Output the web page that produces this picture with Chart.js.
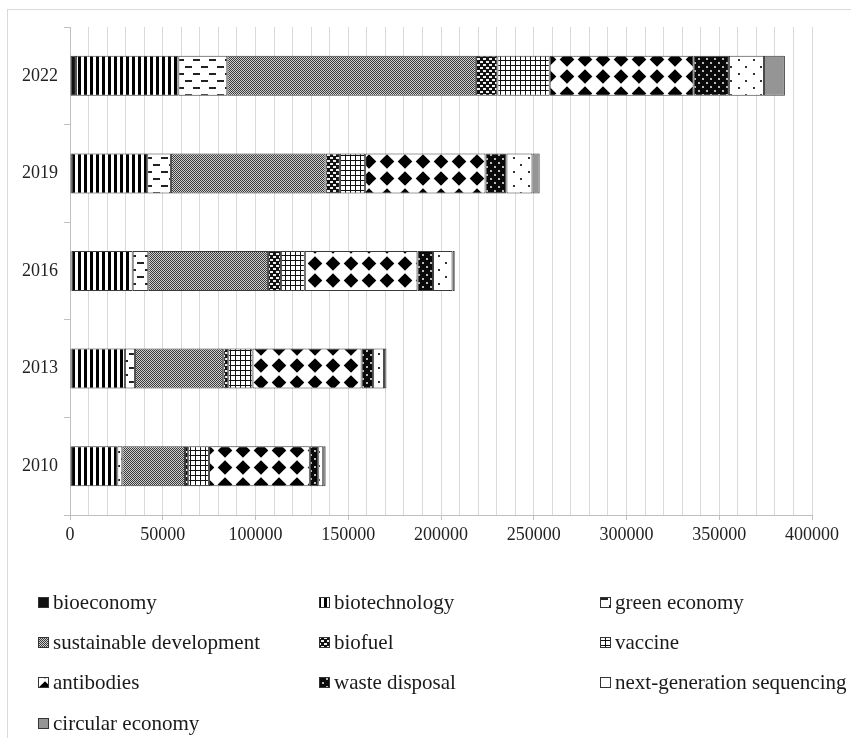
<!DOCTYPE html>
<html>
<head>
<meta charset="utf-8">
<script src="https://cdn.jsdelivr.net/npm/chart.js@4"></script>
<style>
  body { margin: 0; overflow: hidden; background: #fff; }
  #frame { position: absolute; left: 7px; top: 9px; width: 900px; height: 800px; border: 1px solid #d9d9d9; }
  #wrap { position: absolute; left: 0; top: 0; width: 851px; height: 738px; }
</style>
</head>
<body>
<div id="frame"></div>
<div id="wrap"><canvas id="myChart"></canvas></div>
<script>
// categories, top to bottom
const years = ['2022', '2019', '2016', '2013', '2010'];

// series values
const bioeconomy = [3200, 1000, 800, 700, 600];
const biotechnology = [55200, 40600, 33000, 28900, 24900];
const greenEconomy = [26400, 12800, 8400, 5400, 2700];
const sustainableDevelopment = [134000, 83400, 64600, 47600, 33800];
const biofuel = [11600, 7700, 6900, 2700, 1700];
const vaccine = [28200, 13600, 12900, 13100, 11200];
const antibodies = [77600, 64900, 60700, 58800, 54400];
const wasteDisposal = [19000, 11300, 8400, 6200, 4500];
const ngs = [18900, 14000, 10500, 5900, 2700];
const circularEconomy = [11300, 3900, 1200, 1300, 1300];

const seriesNames = ['bioeconomy', 'biotechnology', 'green economy', 'sustainable development', 'biofuel',
    'vaccine', 'antibodies', 'waste disposal', 'next-generation sequencing', 'circular economy'];
const seriesValues = [bioeconomy, biotechnology, greenEconomy, sustainableDevelopment, biofuel,
    vaccine, antibodies, wasteDisposal, ngs, circularEconomy];

// x axis ticks
const xMax = 400000;
const labelStep = 50000;
const gridStep = 10000;

const serif = "'Liberation Serif', 'Times New Roman', serif";

function tile(w, h, draw) {
    const c = document.createElement('canvas');
    c.width = w;
    c.height = h;
    const g = c.getContext('2d');
    draw(g, w, h);
    return c;
}

function diamond(g, cx, cy, r) {
    g.beginPath();
    g.moveTo(cx, cy - r);
    g.lineTo(cx + r, cy);
    g.lineTo(cx, cy + r);
    g.lineTo(cx - r, cy);
    g.closePath();
    g.fill();
}

// hatch tiles for each series
const tiles = [
    tile(4, 4, (g) => { g.fillStyle = '#111'; g.fillRect(0, 0, 4, 4); }),
    tile(6, 6, (g) => { g.fillStyle = '#fff'; g.fillRect(0, 0, 6, 6); g.fillStyle = '#000'; g.fillRect(0, 0, 3, 6); }),
    tile(16, 14, (g) => {
        g.fillStyle = '#fff'; g.fillRect(0, 0, 16, 14);
        g.fillStyle = '#222'; g.fillRect(1, 3, 7, 2); g.fillRect(9, 10, 7, 2);
    }),
    tile(2, 2, (g) => {
        g.fillStyle = '#cfcfcf'; g.fillRect(0, 0, 2, 2);
        g.fillStyle = '#3a3a3a'; g.fillRect(0, 0, 1, 1); g.fillRect(1, 1, 1, 1);
    }),
    tile(6, 6, (g) => {
        g.fillStyle = '#111'; g.fillRect(0, 0, 6, 6);
        g.fillStyle = '#eee'; g.fillRect(0, 1, 3, 2); g.fillRect(3, 4, 3, 2);
    }),
    tile(5, 5, (g) => {
        g.fillStyle = '#fff'; g.fillRect(0, 0, 5, 5);
        g.fillStyle = '#111'; g.fillRect(0, 0, 5, 1); g.fillRect(0, 0, 1, 5);
    }),
    tile(18, 17, (g) => {
        g.fillStyle = '#fff'; g.fillRect(0, 0, 18, 17);
        g.fillStyle = '#000';
        diamond(g, 9, 8.5, 7.3);
    }),
    tile(8, 8, (g) => {
        g.fillStyle = '#0a0a0a'; g.fillRect(0, 0, 8, 8);
        g.fillStyle = '#bbb'; g.fillRect(2, 2, 2, 2); g.fillRect(6, 6, 2, 2);
    }),
    tile(15, 14, (g) => {
        g.fillStyle = '#fff'; g.fillRect(0, 0, 15, 14);
        g.fillStyle = '#333'; g.fillRect(3, 3, 2, 2); g.fillRect(10, 10, 2, 2);
    }),
    tile(4, 4, (g) => { g.fillStyle = '#959595'; g.fillRect(0, 0, 4, 4); })
];

const ctx = document.getElementById('myChart').getContext('2d');
const fills = tiles.map(t => ctx.createPattern(t, 'repeat'));

const datasets = seriesNames.map((name, i) => {
    return {
        label: name,
        data: seriesValues[i],
        backgroundColor: fills[i],
        borderColor: '#3a3a3a',
        borderWidth: 1,
        borderSkipped: false,
        barPercentage: 0.41,
        categoryPercentage: 1
    };
});

const tickFont = { family: serif, size: 18 };

// legend in three equal columns under the plot
const colX = [38, 319, 600];
const rowY = [602, 642, 682, 723];
const legendPlugin = {
    id: 'gridLegend',
    afterDraw(chart) {
        const c = chart.ctx;
        c.save();
        c.font = '21px ' + serif;
        c.textBaseline = 'middle';
        chart.data.datasets.forEach((ds, i) => {
            const x = colX[i % 3];
            const y = rowY[Math.floor(i / 3)];
            c.fillStyle = ds.backgroundColor;
            c.fillRect(x, y - 5, 11, 11);
            c.strokeStyle = '#333';
            c.lineWidth = 1;
            c.strokeRect(x + 0.5, y - 4.5, 10, 10);
            c.fillStyle = '#1a1a1a';
            c.fillText(ds.label, x + 15, y + 1);
        });
        c.restore();
    }
};

new Chart(ctx, {
    type: 'bar',
    data: {
        labels: years,
        datasets: datasets
    },
    plugins: [legendPlugin],
    options: {
        indexAxis: 'y',
        responsive: true,
        maintainAspectRatio: false,
        animation: false,
        layout: {
            padding: { top: 27, right: 39, left: 0, bottom: 178 }
        },
        plugins: {
            legend: { display: false },
            tooltip: { enabled: false }
        },
        scales: {
            x: {
                stacked: true,
                min: 0,
                max: xMax,
                afterFit: (s) => { s.height = 45; },
                border: { color: '#bfbfbf' },
                grid: {
                    color: '#d9d9d9',
                    tickLength: 5,
                    tickColor: (c) => (c.tick && c.tick.value % labelStep === 0) ? '#bfbfbf' : 'rgba(0,0,0,0)'
                },
                ticks: {
                    stepSize: gridStep,
                    autoSkip: false,
                    maxRotation: 0,
                    padding: 4,
                    color: '#222',
                    font: tickFont,
                    callback: function(value) {
                        return value % labelStep === 0 ? String(value) : '';
                    }
                }
            },
            y: {
                stacked: true,
                afterFit: (s) => { s.width = 70; },
                border: { color: '#bfbfbf' },
                grid: {
                    offset: true,
                    drawOnChartArea: false,
                    tickLength: 6,
                    color: '#bfbfbf'
                },
                ticks: {
                    padding: 6,
                    color: '#222',
                    font: tickFont
                }
            }
        }
    }
});
</script>
</body>
</html>
